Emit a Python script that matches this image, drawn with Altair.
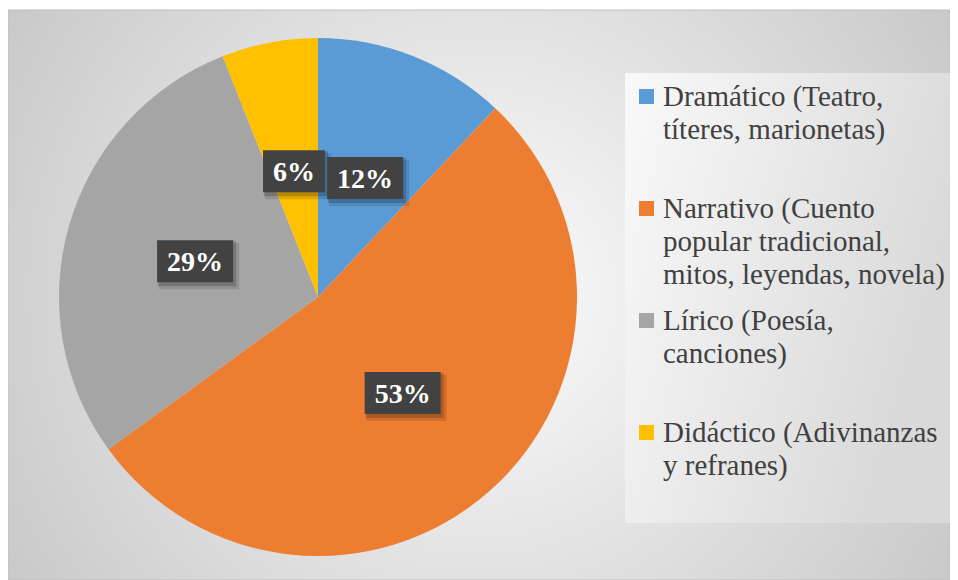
import altair as alt
import pandas as pd

# ---- data -------------------------------------------------------------
categories = [
    "Dramático (Teatro,\ntíteres, marionetas)",
    "Narrativo (Cuento\npopular tradicional,\nmitos, leyendas, novela)",
    "Lírico (Poesía,\ncanciones)",
    "Didáctico (Adivinanzas\ny refranes)",
]
percentages = [12, 53, 29, 6]
colors = ["#5B9BD5", "#ED7D31", "#A5A5A5", "#FFC000"]

df = pd.DataFrame({"categoria": categories, "porcentaje": percentages,
                   "orden": list(range(len(categories)))})

# ---- layout constants ----------------------------------------------------
W, H = 942, 570
CX, CY, R = 310, 287, 259
LR = 128

bg = alt.Chart(alt.Data(values=[{}])).mark_rect(
    fill=alt.Gradient(gradient="radial", x1=0.5, y1=0.5, r1=0, x2=0.5, y2=0.5, r2=0.72,
                      stops=[alt.GradientStop(offset=0, color="#fcfcfc"),
                             alt.GradientStop(offset=1, color="#bdbdbd")]),
    stroke="#bfbfbf", strokeWidth=1,
).encode(x=alt.value(0), x2=alt.value("width"), y=alt.value(0), y2=alt.value("height"))

legend_bg = alt.Chart(alt.Data(values=[{}])).mark_rect(
    fill=alt.Gradient(gradient="linear", x1=0, y1=0, x2=1, y2=0.4,
                      stops=[alt.GradientStop(offset=0, color="#f9f9f9"),
                             alt.GradientStop(offset=1, color="#d9d9d9")]),
).encode(x=alt.value(617), x2=alt.value(942), y=alt.value(63), y2=alt.value(513))

pie = alt.Chart(df).mark_arc(radius=R).encode(
    theta=alt.Theta("porcentaje:Q", stack=True),
    color=alt.Color(
        "categoria:N",
        scale=alt.Scale(domain=categories, range=colors),
        sort=categories,
        legend=alt.Legend(
            title=None, orient="none", legendX=624, legendY=81, direction="vertical",
            symbolType="M-1,-2.2L1,-2.2L1,-0.2L-1,-0.2Z", symbolSize=225,
            symbolStrokeWidth=0, symbolOffset=0,
            labelFont="Liberation Serif", labelFontSize=29, labelColor="#404040",
            labelLimit=500, labelExpr="split(datum.label, '\\n')",
            labelBaseline="alphabetic", labelOffset=2,
            gridAlign="all", rowPadding=16, padding=0,
        ),
    ),
    order=alt.Order("orden:Q"),
    x=alt.value(CX), y=alt.value(CY),
)

base = alt.Chart(df).transform_window(
    acum="sum(porcentaje)", sort=[alt.SortField("orden")], frame=[None, 0]
).transform_joinaggregate(total="sum(porcentaje)").transform_calculate(
    ang="2*PI*(datum.acum - datum.porcentaje/2)/datum.total",
    px=f"{CX} + {LR}*sin(datum.ang)",
    py=f"{CY} - {LR}*cos(datum.ang)",
    etiqueta="datum.porcentaje + '%'",
    hw="7*length(datum.etiqueta) + 17",
    bx1="datum.px - datum.hw",
    bx2="datum.px + datum.hw",
    by1="datum.py - 21",
    by2="datum.py + 21",
)

box_enc = dict(
    x=alt.X("bx1:Q", scale=None, axis=None), x2="bx2:Q",
    y=alt.Y("by1:Q", scale=None, axis=None), y2="by2:Q",
)
shadow1 = base.mark_rect(color="black", opacity=0.12, xOffset=2, x2Offset=6,
                         yOffset=3, y2Offset=7).encode(**box_enc)
shadow2 = base.mark_rect(color="black", opacity=0.18, xOffset=1, x2Offset=3,
                         yOffset=1, y2Offset=4).encode(**box_enc)
boxes = base.mark_rect(color="#424242").encode(**box_enc)
texts = base.mark_text(font="Liberation Serif", fontSize=28, fontWeight="bold",
                       color="white", align="center", baseline="middle", dy=2).encode(
    x=alt.X("px:Q", scale=None, axis=None),
    y=alt.Y("py:Q", scale=None, axis=None),
    text="etiqueta:N",
)

chart = alt.layer(bg, legend_bg, pie, shadow1, shadow2, boxes, texts).properties(
    width=W, height=H, autosize="none",
    padding={"left": 0, "top": 2, "right": 0, "bottom": 0},
).configure_view(stroke=None).configure(
    background="white",
    style={"guide-label": {"lineHeight": 33}},
)

chart.save("out.html", embed_options={"renderer": "svg", "actions": False})
